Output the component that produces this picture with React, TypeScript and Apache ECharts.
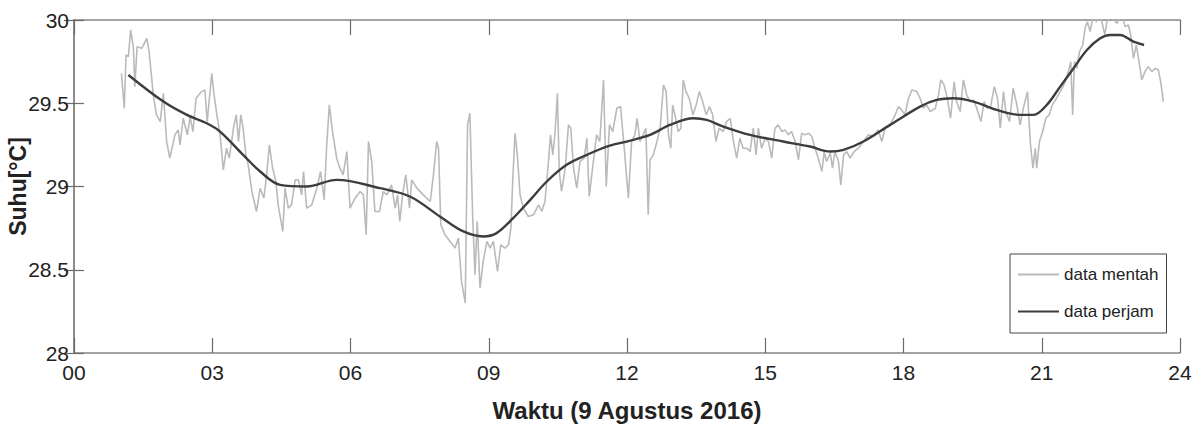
import React, { useEffect, useRef } from "react";
import * as echarts from "echarts";

// Raw measurements (hour of day, °C)
const rawTime = [
  1.03, 1.09, 1.13, 1.18, 1.23, 1.29, 1.32, 1.37, 1.47, 1.58, 1.63, 1.72, 1.79, 1.87, 1.94, 2.01, 2.08, 2.19, 2.26, 2.3,
  2.37, 2.46, 2.52, 2.58, 2.65, 2.77, 2.84, 2.89, 2.99, 3.04, 3.1, 3.17, 3.24, 3.31, 3.37, 3.46, 3.52, 3.57, 3.62, 3.67,
  3.73, 3.78, 3.86, 3.96, 4.04, 4.12, 4.18, 4.24, 4.31, 4.38, 4.43, 4.53, 4.58, 4.65, 4.72, 4.8, 4.87, 4.94, 4.98, 5.05,
  5.16, 5.27, 5.35, 5.43, 5.48, 5.54, 5.61, 5.7, 5.77, 5.84, 5.92, 5.99, 6.1, 6.21, 6.28, 6.34, 6.39, 6.46, 6.53, 6.63,
  6.71, 6.79, 6.89, 6.97, 7.02, 7.07, 7.13, 7.2, 7.28, 7.33, 7.44, 7.58, 7.73, 7.8, 7.87, 7.91, 7.96, 8.05, 8.16, 8.27,
  8.34, 8.41, 8.49, 8.54, 8.59, 8.65, 8.7, 8.75, 8.81, 8.88, 8.96, 9.03, 9.1, 9.19, 9.26, 9.35, 9.43, 9.48, 9.52, 9.57,
  9.62, 9.68, 9.75, 9.86, 9.97, 10.08, 10.15, 10.22, 10.29, 10.34, 10.39, 10.44, 10.49, 10.53, 10.58, 10.66, 10.73, 10.78, 10.84, 10.91,
  10.98, 11.07, 11.13, 11.18, 11.27, 11.34, 11.41, 11.49, 11.55, 11.62, 11.69, 11.78, 11.86, 11.94, 12.03, 12.1, 12.17, 12.22, 12.28, 12.35,
  12.41, 12.46, 12.5, 12.57, 12.65, 12.72, 12.79, 12.85, 12.9, 12.95, 12.99, 13.04, 13.11, 13.17, 13.22, 13.28, 13.35, 13.43, 13.5, 13.57,
  13.64, 13.72, 13.79, 13.86, 13.93, 14.0, 14.09, 14.16, 14.24, 14.31, 14.38, 14.45, 14.52, 14.6, 14.67, 14.74, 14.8, 14.85, 14.92, 15.0,
  15.07, 15.14, 15.21, 15.28, 15.36, 15.43, 15.5, 15.57, 15.65, 15.72, 15.79, 15.86, 15.94, 16.01, 16.08, 16.15, 16.23, 16.28, 16.33, 16.41,
  16.46, 16.51, 16.59, 16.64, 16.7, 16.77, 16.84, 16.93, 17.02, 17.13, 17.24, 17.35, 17.45, 17.53, 17.6, 17.71, 17.82, 17.89, 17.96, 18.03,
  18.11, 18.18, 18.29, 18.36, 18.43, 18.5, 18.58, 18.69, 18.76, 18.81, 18.88, 18.95, 19.02, 19.1, 19.15, 19.23, 19.3, 19.37, 19.44, 19.52,
  19.59, 19.68, 19.75, 19.82, 19.89, 19.97, 20.04, 20.1, 20.17, 20.22, 20.3, 20.38, 20.46, 20.53, 20.6, 20.69, 20.75, 20.81, 20.86, 20.89,
  20.95, 21.02, 21.09, 21.16, 21.23, 21.32, 21.4, 21.48, 21.58, 21.63, 21.67, 21.71, 21.76, 21.82, 21.89, 21.94, 21.99, 22.05, 22.11, 22.19,
  22.27, 22.37, 22.42, 22.5, 22.63, 22.74, 22.81, 22.88, 22.93, 22.99, 23.05, 23.1, 23.17, 23.24, 23.31, 23.39, 23.46, 23.53, 23.58, 23.64,
];
const rawTemp = [
  29.68, 29.47, 29.79, 29.78, 29.94, 29.83, 29.6, 29.84, 29.83, 29.89, 29.81, 29.55, 29.43, 29.39, 29.56, 29.27, 29.17, 29.31, 29.34, 29.25,
  29.41, 29.31, 29.42, 29.33, 29.53, 29.57, 29.58, 29.39, 29.68, 29.55, 29.43, 29.31, 29.1, 29.23, 29.17, 29.35, 29.43, 29.27, 29.43, 29.35,
  29.19, 29.13, 28.97, 28.85, 28.99, 28.93, 29.07, 29.25, 29.11, 29.03, 28.89, 28.73, 28.99, 28.87, 28.89, 29.04, 29.04, 28.95, 29.09, 28.87,
  28.89, 28.99, 29.09, 28.92, 29.23, 29.49, 29.33, 29.17, 29.11, 29.07, 29.21, 28.87, 28.93, 28.97, 28.95, 28.71, 29.27, 29.15, 28.85, 28.85,
  28.97, 28.95, 29.01, 28.87, 28.95, 28.79, 28.95, 29.07, 28.87, 29.04, 28.99, 28.95, 28.91, 29.07, 29.27, 29.23, 28.77, 28.71, 28.67, 28.63,
  28.69, 28.43, 28.3, 29.37, 29.44, 28.83, 28.47, 28.79, 28.39, 28.55, 28.67, 28.63, 28.67, 28.49, 28.65, 28.63, 28.65, 28.75, 29.03, 29.32,
  29.19, 28.95, 28.87, 28.82, 28.83, 28.89, 28.85, 28.91, 29.13, 29.31, 29.19, 29.33, 29.56, 29.09, 28.97, 29.11, 29.37, 29.35, 29.11, 28.99,
  29.15, 29.17, 29.29, 28.94, 29.15, 29.31, 29.27, 29.64, 29.0, 29.37, 29.33, 29.47, 29.48, 29.23, 28.93, 29.27, 29.31, 29.41, 29.27, 29.31,
  29.35, 28.83, 29.16, 29.19, 29.27, 29.35, 29.61, 29.57, 29.31, 29.23, 29.49, 29.43, 29.33, 29.35, 29.64, 29.57, 29.53, 29.43, 29.49, 29.57,
  29.51, 29.43, 29.48, 29.43, 29.27, 29.35, 29.33, 29.39, 29.41, 29.27, 29.17, 29.29, 29.23, 29.23, 29.21, 29.35, 29.19, 29.35, 29.23, 29.29,
  29.27, 29.17, 29.35, 29.37, 29.33, 29.34, 29.31, 29.33, 29.27, 29.16, 29.32, 29.31, 29.32, 29.3, 29.23, 29.17, 29.09, 29.21, 29.15, 29.2,
  29.11, 29.21, 29.15, 29.01, 29.19, 29.21, 29.17, 29.21, 29.23, 29.27, 29.31, 29.3, 29.34, 29.27, 29.35, 29.37, 29.43, 29.48, 29.46, 29.43,
  29.53, 29.58, 29.57, 29.53, 29.47, 29.49, 29.45, 29.47, 29.55, 29.64, 29.61, 29.53, 29.41, 29.63, 29.51, 29.45, 29.64, 29.55, 29.51, 29.52,
  29.47, 29.39, 29.51, 29.47, 29.48, 29.6, 29.53, 29.35, 29.57, 29.45, 29.39, 29.59, 29.49, 29.37, 29.47, 29.57, 29.27, 29.11, 29.23, 29.11,
  29.27, 29.33, 29.41, 29.43, 29.49, 29.53, 29.57, 29.61, 29.69, 29.75, 29.43, 29.75, 29.71, 29.81, 29.85, 29.95, 29.99, 29.93, 30.02, 29.99,
  30.03, 29.91, 30.0, 30.02, 29.98, 30.03, 29.96, 29.97, 29.91, 29.77, 29.85, 29.77, 29.64, 29.69, 29.72, 29.69, 29.71, 29.7, 29.63, 29.51,
];

// Hourly (smoothed) data
const hourTime = [
  1.18, 1.94, 2.45, 2.88, 3.17, 3.67, 4.04, 4.47, 5.05, 5.7, 6.64, 7.29, 7.94, 8.45, 8.88, 9.17, 9.53, 9.9, 10.26, 10.69,
  11.13, 11.56, 11.99, 12.5, 12.93, 13.44, 13.73, 14.09, 14.67, 15.39, 15.97, 16.41, 16.7, 17.13, 17.71, 18.36, 18.72, 19.08, 19.52, 20.02,
  20.53, 20.82, 21.11, 21.4, 21.69, 21.98, 22.27, 22.48, 22.7, 22.99, 23.22,
];
const hourTemp = [
  29.67, 29.51, 29.43, 29.38, 29.33, 29.19, 29.09, 29.01, 29.0, 29.04, 28.99, 28.94, 28.82, 28.73, 28.7, 28.72, 28.81, 28.92, 29.03, 29.13,
  29.19, 29.24, 29.27, 29.31, 29.37, 29.41, 29.4, 29.36, 29.31, 29.27, 29.24, 29.21, 29.22, 29.27, 29.37, 29.48, 29.52, 29.53, 29.51, 29.46,
  29.43, 29.43, 29.49, 29.6, 29.71, 29.82, 29.89, 29.91, 29.91, 29.87, 29.85,
];

const seriesNames = ["data mentah", "data perjam"];
const xTitle = "Waktu (9 Agustus 2016)";
const yTitle = "Suhu[°C]";

const FONT = "'Liberation Sans Narrow', 'Liberation Sans', Arial, sans-serif";
const BOLD_FONT = "'Liberation Sans', Arial, sans-serif";

export default function App() {
  const ref = useRef<HTMLDivElement>(null);

  useEffect(() => {
    if (!ref.current) return;
    const chart = echarts.init(ref.current, undefined, { renderer: "svg" });
    const axisLine = { show: true, lineStyle: { color: "#858585", width: 1.5 } };
    const xTick = { show: true, inside: true, length: 15, lineStyle: { color: "#6a6a6a", width: 1.2 } };
    const yTick = { show: true, inside: true, length: 10, lineStyle: { color: "#6a6a6a", width: 1.2 } };
    chart.setOption({
      animation: false,
      backgroundColor: "#ffffff",
      grid: { left: 74, right: 19, top: 20, bottom: 81, containLabel: false, outerBoundsMode: "none" },
      legend: {
        orient: "vertical",
        left: 1010,
        top: 254,
        padding: [12, 8, 13, 7],
        borderColor: "#444",
        borderWidth: 1,
        backgroundColor: "#fff",
        itemWidth: 41,
        itemHeight: 14,
        itemGap: 20,
        itemStyle: { color: "rgba(0,0,0,0)", borderColor: "rgba(0,0,0,0)", borderWidth: 0 },
        textStyle: { fontSize: 17, color: "#222", fontFamily: FONT },
        data: seriesNames,
      },
      xAxis: [
        {
          type: "value",
          min: 0,
          max: 24,
          interval: 3,
          axisLine,
          axisTick: xTick,
          splitLine: { show: false },
          axisLabel: {
            formatter: (v: number) => String(v).padStart(2, "0"),
            fontSize: 21,
            color: "#222",
            fontFamily: FONT,
            margin: 9,
          },
          name: xTitle,
          nameLocation: "middle",
          nameGap: 45,
          nameMoveOverlap: false,
          nameTextStyle: { fontSize: 24, fontWeight: "bold", color: "#222", fontFamily: BOLD_FONT },
        },
        {
          type: "value",
          position: "top",
          min: 0,
          max: 24,
          interval: 3,
          axisLine,
          axisTick: xTick,
          axisLabel: { show: false },
          splitLine: { show: false },
        },
      ],
      yAxis: [
        {
          type: "value",
          min: 28,
          max: 30,
          interval: 0.5,
          axisLine,
          axisTick: yTick,
          splitLine: { show: false },
          axisLabel: { fontSize: 21, color: "#222", fontFamily: FONT, margin: 5 },
          name: yTitle,
          nameLocation: "middle",
          nameGap: 45,
          nameRotate: 90,
          nameMoveOverlap: false,
          nameTextStyle: { fontSize: 23, fontWeight: "bold", color: "#222", fontFamily: BOLD_FONT },
        },
        {
          type: "value",
          position: "right",
          min: 28,
          max: 30,
          interval: 0.5,
          axisLine,
          axisTick: yTick,
          axisLabel: { show: false },
          splitLine: { show: false },
        },
      ],
      series: [
        {
          name: seriesNames[0],
          type: "line",
          xAxisIndex: 0,
          yAxisIndex: 0,
          symbol: "none",
          clip: true,
          data: rawTime.map((t, i) => [t, rawTemp[i]]),
          lineStyle: { color: "#bababa", width: 1.6 },
          itemStyle: { color: "#bababa" },
          z: 2,
        },
        {
          name: seriesNames[1],
          type: "line",
          xAxisIndex: 0,
          yAxisIndex: 0,
          symbol: "none",
          smooth: 0.35,
          data: hourTime.map((t, i) => [t, hourTemp[i]]),
          lineStyle: { color: "#3d3d3d", width: 2.4 },
          itemStyle: { color: "#3d3d3d" },
          z: 3,
        },
      ],
    });
    return () => chart.dispose();
  }, []);

  return (
    <div
      ref={ref}
      style={{ position: "fixed", left: 0, top: 0, width: 1199, height: 434, background: "#fff" }}
    />
  );
}
